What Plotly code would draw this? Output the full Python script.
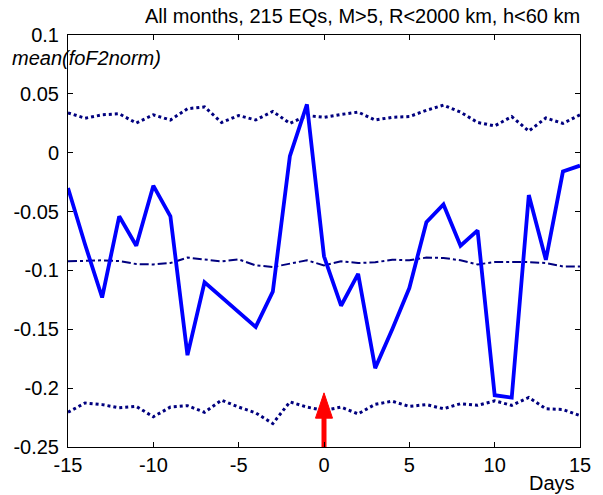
import plotly.graph_objects as go

days = list(range(-15, 16))

mean_fof2 = [-0.030, -0.078, -0.123, -0.054, -0.079, -0.028, -0.054, -0.172, -0.110, -0.123,
             -0.136, -0.148, -0.118, -0.003, 0.041, -0.088, -0.130, -0.103, -0.183, -0.150,
             -0.115, -0.059, -0.044, -0.079, -0.066, -0.206, -0.208, -0.036, -0.091, -0.016, -0.011]

upper_bound = [0.0339, 0.0293, 0.0322, 0.0331, 0.0252, 0.0322, 0.0278, 0.0374, 0.0389, 0.0257,
               0.0316, 0.0278, 0.0351, 0.0249, 0.0316, 0.0301, 0.0325, 0.0345, 0.0278, 0.0301,
               0.0307, 0.0360, 0.0404, 0.0345, 0.0257, 0.0228, 0.0307, 0.0184, 0.0295, 0.0249, 0.0322]

mean_level = [-0.0923, -0.0920, -0.0914, -0.0920, -0.0946, -0.0949, -0.0937, -0.0891, -0.0906, -0.0923,
              -0.0906, -0.0957, -0.0971, -0.0943, -0.0914, -0.0957, -0.0923, -0.0937, -0.0931, -0.0909,
              -0.0914, -0.0891, -0.0894, -0.0914, -0.0949, -0.0929, -0.0929, -0.0929, -0.0937, -0.0966, -0.0966]

lower_bound = [-0.2205, -0.2126, -0.2140, -0.2167, -0.2155, -0.2243, -0.2161, -0.2149, -0.2205, -0.2102,
               -0.2161, -0.2210, -0.2301, -0.2117, -0.2161, -0.2190, -0.2161, -0.2219, -0.2137, -0.2111,
               -0.2155, -0.2140, -0.2175, -0.2132, -0.2146, -0.2108, -0.2146, -0.2079, -0.2175, -0.2181, -0.2234]

x_ticks = [-15, -10, -5, 0, 5, 10, 15]
y_ticks = [-0.25, -0.2, -0.15, -0.1, -0.05, 0, 0.05, 0.1]
y_tick_text = ["-0.25", "-0.2", "-0.15", "-0.1", "-0.05", "0", "0.05", "0.1"]

arrow_x = 0
arrow_base = -0.25
arrow_head_base = -0.2255
arrow_tip = -0.204
arrow_half_width = 0.5

navy = "#00007F"
font_family = "Liberation Sans, Arial, sans-serif"

fig = go.Figure()
fig.add_trace(go.Scatter(x=days, y=upper_bound, mode="lines",
                         line=dict(color=navy, width=3, dash="dot")))
fig.add_trace(go.Scatter(x=days, y=lower_bound, mode="lines",
                         line=dict(color=navy, width=3, dash="dot")))
fig.add_trace(go.Scatter(x=days, y=mean_level, mode="lines",
                         line=dict(color=navy, width=2, dash="dashdot")))
fig.add_trace(go.Scatter(x=days, y=mean_fof2, mode="lines",
                         line=dict(color="#0000FF", width=3.8)))
# red arrow at day 0
fig.add_trace(go.Scatter(x=[arrow_x, arrow_x], y=[arrow_base, arrow_head_base + 0.002], mode="lines",
                         line=dict(color="#FF0000", width=5)))
fig.add_trace(go.Scatter(x=[arrow_x - arrow_half_width, arrow_x + arrow_half_width, arrow_x, arrow_x - arrow_half_width],
                         y=[arrow_head_base, arrow_head_base, arrow_tip, arrow_head_base],
                         mode="lines", fill="toself", fillcolor="#FF0000",
                         line=dict(color="#FF0000", width=1)))

axis_common = dict(showgrid=False, zeroline=False, showline=True, linecolor="black", linewidth=1,
                   mirror="ticks", ticks="inside", ticklen=5, tickcolor="black",
                   tickfont=dict(family=font_family, size=20, color="black"))

fig.update_layout(
    width=603, height=495,
    margin=dict(l=68, r=14, t=35, b=48),
    paper_bgcolor="white", plot_bgcolor="white",
    showlegend=False,
    xaxis=dict(range=[-15, 15], tickvals=x_ticks, ticktext=[str(v) for v in x_ticks], **axis_common),
    yaxis=dict(range=[-0.25, 0.1], tickvals=y_ticks, ticktext=y_tick_text, ticklabelstandoff=4, **axis_common),
    annotations=[
        dict(text="All months, 215 EQs, M>5, R<2000 km, h<60 km", xref="paper", yref="paper",
             x=0.576, y=1.0, yshift=19, xanchor="center", yanchor="middle", showarrow=False,
             font=dict(family=font_family, size=20, color="black")),
        dict(text="<i>mean(foF2norm)</i>", xref="paper", yref="paper",
             x=-0.114, y=0.944, xanchor="left", yanchor="middle", showarrow=False,
             font=dict(family=font_family, size=20, color="black")),
        dict(text="Days", xref="paper", yref="paper",
             x=0.945, y=0, yshift=-36, xanchor="center", yanchor="middle", showarrow=False,
             font=dict(family=font_family, size=20, color="black")),
    ],
)

fig.write_html("out.html")
